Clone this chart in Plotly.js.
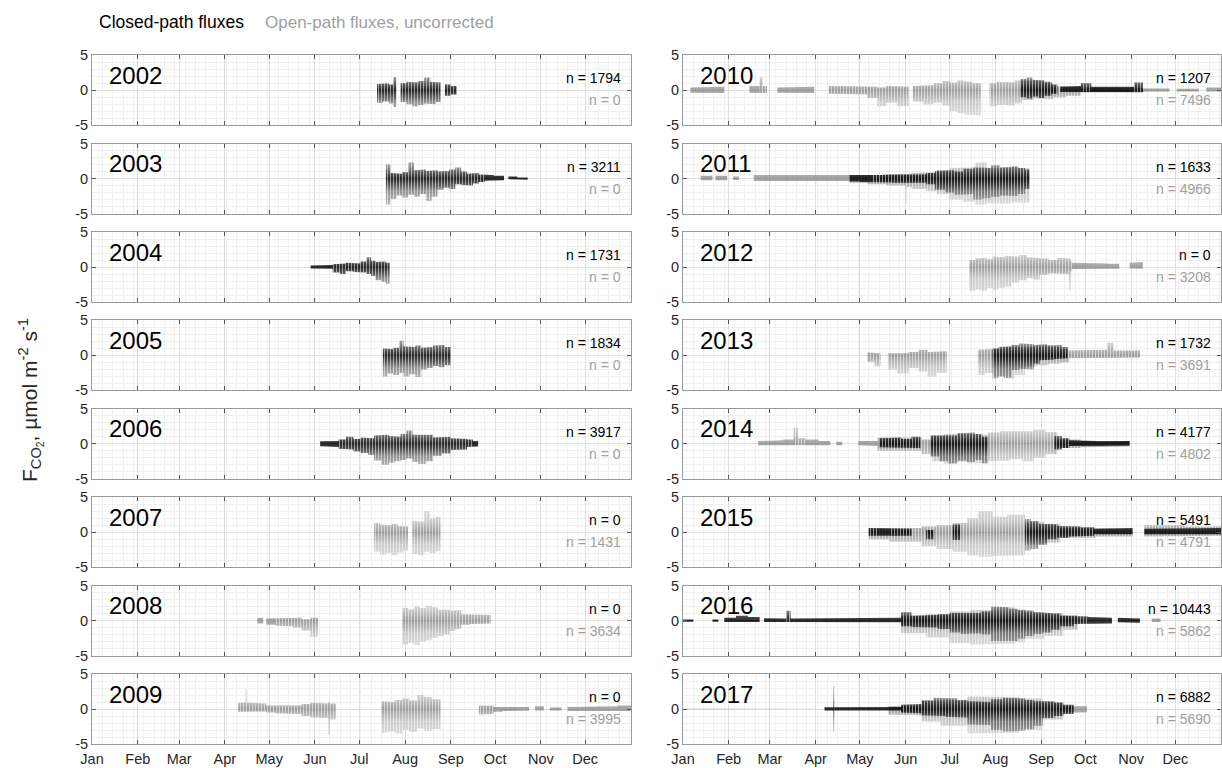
<!DOCTYPE html>
<html>
<head>
<meta charset="utf-8">
<script src="https://cdn.plot.ly/plotly-3.0.1.min.js"></script>
<style>html,body{margin:0;padding:0;background:#fff;}#chart{width:1222px;height:768px;}</style>
</head>
<body>
<div id="chart"></div>
<script>
// ---------------- DATA (day-of-year start, day-of-year end, low flux, high flux) ----------------
const years = [2002,2003,2004,2005,2006,2007,2008,2009,2010,2011,2012,2013,2014,2015,2016,2017];
const nClosed = [1794,3211,1731,1834,3917,0,0,0,1207,1633,0,1732,4177,5491,10443,6882];
const nOpen   = [0,0,0,0,0,1431,3634,3995,7496,4966,3208,3691,4802,4791,5862,5690];
const monthNames = ['Jan','Feb','Mar','Apr','May','Jun','Jul','Aug','Sep','Oct','Nov','Dec'];
const monthStart = [0,31,59,90,120,151,181,212,243,273,304,334];

const cp2002 = [[193,197,-1.8,0.9],[197,201,-1.6,1.0],[201,204,-1.9,0.8],[204,206,-2.4,1.9],[209,213,-1.7,1.0],[213,217,-2.0,1.2],[217,221,-2.3,1.1],[221,225,-2.1,1.3],[225,229,-1.9,1.8],[229,233,-2.0,1.2],[233,236,-1.7,1.1],[239,243,-0.8,0.8],[243,247,-0.6,0.6]];
const cp2003 = [[199,202,-3.7,2.0],[202,206,-2.9,0.8],[206,210,-2.4,0.7],[210,214,-2.7,0.9],[214,218,-2.3,2.3],[218,222,-2.6,1.2],[222,226,-2.2,1.3],[226,230,-3.2,1.1],[230,234,-2.6,1.2],[234,238,-1.6,1.0],[238,242,-1.3,1.1],[242,246,-1.5,1.3],[246,250,-0.8,1.6],[250,254,-0.9,1.0],[254,258,-1.0,0.7],[258,262,-0.7,0.8],[262,266,-0.5,0.6],[266,272,-0.3,0.5],[272,279,-0.25,0.4],[282,288,-0.1,0.3],[288,295,-0.15,0.15]];
const cp2004 = [[148,155,-0.2,0.2],[155,163,-0.25,0.3],[163,168,-0.8,0.4],[168,172,-1.0,0.5],[172,177,-0.6,0.6],[177,182,-0.7,0.5],[182,186,-0.8,0.8],[186,189,-1.0,1.4],[189,192,-1.3,0.9],[192,196,-1.9,0.7],[196,199,-2.1,0.8],[199,201.5,-2.4,0.6]];
const cp2005 = [[197,200,-3.0,1.0],[200,204,-2.6,0.9],[204,208,-2.8,1.1],[208,211,-2.5,2.1],[211,215,-3.0,1.3],[215,219,-2.7,1.2],[219,223,-3.1,1.4],[223,227,-2.0,1.1],[227,231,-1.8,1.2],[231,235,-1.5,1.4],[235,239,-1.7,1.5],[239,243,-1.4,1.2]];
const cp2006 = [[154.5,160,-0.35,0.35],[160,167,-0.45,0.4],[167,172,-0.7,0.6],[172,177,-0.8,1.0],[177,182,-1.1,0.7],[182,187,-1.3,0.9],[187,191,-1.6,0.8],[191,196,-2.4,1.2],[196,201,-3.0,1.3],[201,205,-2.7,1.1],[205,209,-2.5,1.0],[209,213,-2.3,1.4],[213,217,-2.1,1.9],[217,221,-2.6,1.3],[221,226,-2.9,1.2],[226,231,-2.5,1.3],[231,237,-1.7,0.9],[237,243,-1.4,1.0],[243,249,-0.9,0.8],[249,254,-0.8,0.7],[254,258,-0.45,0.6],[258,261.5,-0.4,0.4]];
const op2007 = [[191,195,-2.8,1.3],[195,199,-3.2,1.1],[199,203,-3.0,1.0],[203,207,-3.3,1.2],[207,211,-2.9,0.9],[211,214,-2.6,0.8],[217,221,-3.1,1.6],[221,225,-3.3,1.5],[225,229,-2.8,3.0],[229,233,-3.0,2.0],[233,236,-2.7,2.2]];
const op2008 = [[112,116,-0.4,0.4],[118,124,-0.6,0.3],[124,130,-0.7,0.4],[130,136,-0.8,0.3],[136,142,-1.0,0.4],[142,148,-1.4,0.2],[148,153,-2.3,0.4],[210,214,-3.4,1.8],[214,218,-3.2,1.6],[218,222,-3.5,2.0],[222,226,-3.0,1.8],[226,230,-2.8,2.1],[230,234,-2.5,1.9],[234,238,-2.2,1.5],[238,242,-2.0,1.6],[242,246,-1.5,1.4],[246,250,-1.2,1.5],[250,256,-0.6,0.9],[256,262,-0.5,0.8],[262,270,-0.4,0.8]];
const op2009 = [[99,104,-0.4,0.9],[104,105,-0.3,2.8],[105,108,-0.3,0.9],[108,113,-0.4,0.9],[113,118,-0.35,0.8],[118,124,-0.5,0.5],[124,130,-0.6,0.4],[130,136,-0.6,0.4],[136,142,-0.7,0.5],[142,148,-1.0,0.7],[148,153,-1.2,0.9],[153,160,-1.3,0.8],[160,161,-3.7,1.0],[161,165,-1.5,0.8],[196,200,-3.4,1.1],[200,205,-3.2,1.0],[205,210,-3.5,1.3],[210,215,-3.0,1.5],[215,220,-3.3,1.2],[220,225,-2.8,2.0],[225,230,-3.1,1.7],[230,236,-2.9,1.4],[262,267,-0.8,0.5],[267,272,-0.7,0.45],[272,278,-0.4,0.3],[278,288,-0.3,0.25],[288,296,-0.25,0.3],[300,306,-0.2,0.4],[310,318,-0.2,0.2],[322,332,-0.3,0.3],[332,345,-0.3,0.3],[345,356,-0.3,0.4],[356,365,-0.3,0.5]];
const op2010 = [[5,15,-0.35,0.4],[15,28,-0.4,0.5],[45,52,-0.35,0.6],[52,54,-0.4,1.8],[54,57,-0.4,0.6],[64,76,-0.35,0.4],[76,89,-0.4,0.5],[99,108,-0.5,0.6],[108,117,-0.6,0.5],[117,125,-0.6,0.6],[125,132,-1.1,0.5],[132,138,-2.3,0.4],[138,145,-1.8,0.6],[145,153,-2.3,0.5],[156,163,-1.6,0.6],[163,170,-2.0,0.7],[170,176,-1.8,1.0],[176,181,-2.2,1.3],[181,186,-3.0,1.1],[186,191,-3.3,1.4],[191,196,-3.5,1.2],[196,202,-3.6,1.0],[208,213,-2.3,1.0],[213,219,-2.1,1.2],[219,225,-2.2,1.1],[225,230,-1.9,1.4],[230,238,-1.4,1.3],[238,245,-1.2,1.4],[245,251,-1.3,1.0],[251,260,-1.0,0.6],[260,270,-0.8,0.5],[270,290,-0.3,0.4],[290,312,-0.3,0.3],[312,330,-0.2,0.25],[335,350,-0.2,0.2],[355,365,-0.2,0.4]];
const cp2010 = [[229,233,-1.0,1.6],[233,237,-1.2,1.8],[237,241,-0.9,1.5],[241,245,-1.1,1.4],[245,250,-0.8,1.2],[250,254,-0.5,0.8],[256,263,-0.25,0.5],[263,270,-0.2,0.6],[270,277,-0.2,1.0],[277,284,-0.25,0.5],[284,292,-0.2,0.4],[292,299,-0.25,0.4],[299,306,-0.3,0.5],[306,312,-0.3,1.1]];
const op2011 = [[12,20,-0.25,0.4],[22,30,-0.25,0.4],[34,38,-0.2,0.3],[48,60,-0.35,0.5],[60,75,-0.3,0.45],[75,90,-0.35,0.5],[90,103,-0.3,0.5],[103,113,-0.35,0.5],[113,125,-0.6,0.5],[125,138,-0.8,0.5],[138,151,-1.0,0.6],[151,152,-3.7,0.7],[152,155,-1.2,0.7],[155,165,-1.5,0.8],[165,172,-1.8,0.9],[172,181,-2.2,1.2],[181,190,-3.0,1.5],[190,198,-3.3,1.6],[198,206,-3.7,2.3],[206,214,-3.5,1.5],[214,222,-3.6,1.6],[222,228,-3.4,1.8],[228,235,-3.5,1.5]];
const cp2011 = [[113,120,-0.4,0.5],[120,128,-0.5,0.4],[128,135,-0.6,0.5],[135,143,-0.55,0.55],[143,150,-0.6,0.5],[150,158,-0.7,0.5],[158,165,-0.6,0.6],[165,171,-0.8,0.8],[171,178,-1.6,1.1],[178,184,-2.0,1.2],[184,190,-2.3,1.0],[190,197,-2.2,1.4],[197,203,-3.0,1.6],[203,209,-2.8,1.5],[209,215,-2.6,1.9],[215,221,-2.4,1.6],[221,227,-2.5,1.7],[227,232,-2.2,1.5],[232,235,-1.5,1.3]];
const op2012 = [[194,198,-3.4,1.0],[198,202,-3.2,1.2],[202,206,-3.4,1.3],[206,210,-3.0,1.1],[210,214,-3.2,1.5],[214,218,-3.0,1.4],[218,223,-2.8,1.6],[223,228,-2.2,1.5],[228,233,-1.9,1.7],[233,238,-1.6,1.4],[238,242,-1.8,1.3],[242,248,-1.1,1.2],[248,254,-0.9,1.0],[254,262,-1.0,1.3],[262,263,-3.4,1.2],[263,264,-0.6,0.8],[264,272,-0.3,0.6],[272,280,-0.25,0.5],[280,288,-0.3,0.5],[288,296,-0.25,0.45],[303,308,-0.2,0.6],[308,312,-0.25,0.7]];
const op2013 = [[125,130,-0.9,0.4],[130,134,-1.6,0.3],[139,145,-2.0,0.3],[145,153,-2.6,0.3],[153,160,-1.8,0.5],[160,166,-2.3,0.8],[166,172,-3.0,0.5],[172,179,-2.5,0.6],[200,205,-2.8,0.8],[205,211,-2.5,0.9],[211,218,-3.0,1.0],[218,225,-3.3,1.2],[225,232,-2.8,1.3],[232,240,-1.6,1.2],[240,248,-1.4,1.4],[248,256,-1.2,1.2],[256,262,-1.0,0.9],[262,275,-0.4,0.7],[275,288,-0.35,0.8],[288,292,-0.4,1.8],[292,310,-0.3,0.7]];
const cp2013 = [[210,214,-3.3,1.0],[214,218,-3.0,1.2],[218,223,-3.2,1.3],[223,228,-2.1,1.5],[228,233,-1.9,1.7],[233,238,-2.0,1.6],[238,242,-1.2,1.5],[242,247,-0.7,1.6],[247,252,-0.6,1.4],[252,257,-0.5,1.5],[257,261,-0.4,1.2]];
const op2014 = [[51,60,-0.2,0.4],[60,68,-0.25,0.5],[68,75,-0.2,0.6],[75,78,-0.25,2.3],[78,83,-0.25,0.8],[83,92,-0.2,0.6],[92,100,-0.2,0.4],[104,108,-0.2,0.3],[119,126,-0.2,0.4],[126,132,-0.3,0.4],[132,140,-1.0,0.9],[140,150,-1.1,0.9],[150,162,-1.0,0.9],[162,169,-1.5,0.6],[169,177,-2.5,1.2],[177,185,-2.8,1.4],[185,193,-2.6,1.5],[193,200,-2.8,1.4],[200,207,-2.7,1.3],[207,215,-2.5,1.6],[215,222,-2.4,1.8],[222,230,-2.2,1.7],[230,238,-2.5,1.8],[238,246,-2.0,2.0],[246,254,-1.5,1.7],[254,270,-0.6,0.6],[270,290,-0.5,0.4],[290,303,-0.4,0.4]];
const cp2014 = [[133,140,-0.5,0.8],[140,148,-0.6,0.9],[148,155,-0.55,0.7],[155,161,-0.6,1.0],[168,174,-1.8,1.2],[174,180,-2.5,1.3],[180,186,-2.8,1.2],[186,192,-2.4,1.5],[192,198,-2.6,1.6],[198,203,-2.3,1.4],[203,207,-2.8,1.0],[252,257,-0.8,1.1],[257,262,-0.6,0.8],[262,270,-0.3,0.5],[270,280,-0.2,0.4],[280,290,-0.2,0.35],[290,303,-0.25,0.4]];
const op2015 = [[126,140,-1.0,0.6],[140,162,-1.35,0.6],[162,172,-2.0,0.8],[172,183,-2.4,1.0],[183,193,-2.8,1.3],[193,200,-3.3,2.0],[200,210,-3.5,3.0],[210,220,-3.4,2.2],[220,232,-3.3,2.5],[232,245,-1.8,1.5],[245,256,-1.5,1.2],[256,280,-0.8,0.6],[280,305,-0.6,0.5],[313,340,-0.6,1.0],[340,365,-0.5,0.8]];
const cp2015 = [[126,133,-0.5,0.6],[133,140,-0.4,0.5],[140,148,-0.45,0.6],[148,155,-0.5,0.5],[165,170,-1.0,0.3],[183,188,-1.1,1.1],[232,236,-2.6,1.9],[236,241,-2.4,1.6],[241,247,-1.8,1.2],[247,254,-1.0,1.1],[254,262,-0.8,0.9],[262,270,-0.6,0.8],[270,279,-0.5,0.7],[279,292,-0.3,0.5],[292,305,-0.3,0.6],[313,330,-0.3,0.5],[330,345,-0.35,0.5],[345,365,-0.3,0.6]];
const op2016 = [[148,165,-1.8,0.7],[165,181,-2.4,0.9],[181,195,-3.2,1.3],[195,210,-3.4,1.5],[210,225,-3.3,1.9],[225,232,-3.1,1.6],[232,245,-2.6,1.2],[245,258,-2.2,1.0],[258,268,-1.3,0.8],[318,324,-0.2,0.3]];
const cp2016 = [[0,7,-0.15,0.15],[20,24,-0.15,0.15],[28,36,-0.2,0.4],[36,44,-0.2,0.7],[44,52,-0.2,0.5],[55,62,-0.2,0.35],[62,70,-0.2,0.3],[70,73,-0.25,1.4],[73,90,-0.2,0.3],[90,105,-0.25,0.35],[105,120,-0.2,0.3],[120,135,-0.25,0.35],[135,148,-0.25,0.4],[148,155,-0.8,1.2],[155,165,-0.9,0.7],[165,173,-1.0,0.8],[173,181,-1.2,0.9],[181,188,-1.7,1.1],[188,195,-1.9,1.2],[195,202,-1.8,1.1],[202,209,-2.0,1.3],[209,215,-2.9,2.0],[215,221,-2.8,1.9],[221,227,-2.9,1.7],[227,232,-2.6,1.5],[232,238,-2.2,1.4],[238,244,-1.9,1.2],[244,250,-1.7,1.1],[250,256,-1.3,1.0],[256,265,-0.8,0.7],[265,275,-0.5,0.6],[275,284,-0.45,0.5],[284,291,-0.4,0.4],[295,302,-0.25,0.4],[302,310,-0.3,0.3]];
const op2017 = [[0,96,-0.05,0.05],[139,150,-0.8,0.4],[150,162,-0.9,0.5],[162,175,-1.8,1.2],[175,193,-2.4,1.2],[193,210,-3.5,1.8],[210,228,-3.4,1.7],[228,244,-3.0,1.5],[244,258,-1.5,1.0],[258,274,-0.5,0.4]];
const cp2017 = [[96,102,-0.2,0.25],[102,102.6,-3.2,3.3],[102.6,115,-0.2,0.25],[115,130,-0.2,0.3],[130,148,-0.2,0.3],[148,155,-0.5,0.6],[155,162,-0.6,0.7],[162,170,-0.9,1.2],[170,178,-1.0,1.6],[178,186,-1.1,1.5],[186,193,-1.2,1.3],[193,201,-2.2,1.1],[201,209,-2.3,1.0],[209,217,-3.0,1.4],[217,225,-3.2,1.6],[225,232,-3.1,1.5],[232,238,-2.9,1.3],[238,244,-2.4,1.1],[244,252,-1.3,1.1],[252,258,-1.0,0.9],[258,265,-0.7,0.6]];

const closedByYear = {2002:cp2002,2003:cp2003,2004:cp2004,2005:cp2005,2006:cp2006,2010:cp2010,2011:cp2011,2013:cp2013,2014:cp2014,2015:cp2015,2016:cp2016,2017:cp2017};
const openByYear = {2007:op2007,2008:op2008,2009:op2009,2010:op2010,2011:op2011,2012:op2012,2013:op2013,2014:op2014,2015:op2015,2016:op2016,2017:op2017};

// ---------------- LAYOUT ----------------
const W = 1222, H = 768;
const FONT = 'Liberation Sans, Arial, Helvetica, sans-serif';
const colLeft = [92, 683], colRight = [631, 1221];
const rowTop0 = 55.2, rowPitch = 88.4, rowH = 70;
const px = v => v / W, py = v => 1 - v / H;

const traces = [];
const layout = {
  width: W, height: H, margin: {l:0, r:0, t:0, b:0},
  paper_bgcolor: '#fff', plot_bgcolor: '#fff',
  showlegend: false,
  font: {family: FONT, color: '#262626'},
  annotations: []
};

const weekly = [];
for (let d = 7; d < 365; d += 7) weekly.push(d);

// envelope polygons (one per run of contiguous segments), separated by nulls
function envelope(rows) {
  const xs = [], ys = [];
  let run = [];
  const flush = () => {
    if (!run.length) return;
    run.forEach(r => { xs.push(r[0], r[1]); ys.push(r[3], r[3]); });
    for (let k = run.length - 1; k >= 0; k--) { const r = run[k]; xs.push(r[1], r[0]); ys.push(r[2], r[2]); }
    xs.push(null); ys.push(null);
    run = [];
  };
  rows.forEach((r, k) => {
    if (k > 0 && Math.abs(r[0] - rows[k - 1][1]) > 0.01) flush();
    run.push(r);
  });
  flush();
  return {xs, ys};
}

const closedScale = [[0,'rgba(0,0,0,0.2)'],[0.3,'rgba(0,0,0,0.4)'],[0.5,'rgba(0,0,0,0.85)'],[0.7,'rgba(0,0,0,0.4)'],[1,'rgba(0,0,0,0.2)']];
const openScale = [[0,'rgba(150,150,150,0.28)'],[0.3,'rgba(150,150,150,0.45)'],[0.5,'rgba(130,130,130,0.75)'],[0.7,'rgba(150,150,150,0.45)'],[1,'rgba(150,150,150,0.28)']];

function envTraces(rows, ax, closed) {
  const e = envelope(rows);
  const common = {
    type: 'scatter', mode: 'lines',
    xaxis: 'x' + ax, yaxis: 'y' + ax,
    fill: 'toself', connectgaps: false, hoverinfo: 'skip',
    line: {width: 0, color: 'rgba(0,0,0,0)'}
  };
  const shade = Object.assign({}, common, {
    x: e.xs, y: e.ys,
    fillcolor: closed ? 'rgba(0,0,0,0.5)' : 'rgba(150,150,150,0.5)',
    fillgradient: {type: 'vertical', start: -4.5, stop: 4.5, colorscale: closed ? closedScale : openScale}
  });
  // white vertical streak texture over the wide parts of each cloud (daily scatter columns)
  const wide = envelope(rows.filter(r => r[3] - r[2] >= 1));
  const streak = Object.assign({}, common, {
    x: wide.xs, y: wide.ys,
    fillcolor: 'rgba(0,0,0,0)',
    fillpattern: {shape: '|', fgcolor: '#ffffff', fgopacity: 0.5, bgcolor: 'rgba(0,0,0,0)', size: 3, solidity: 0.34}
  });
  return [shade, streak];
}

years.forEach((yr, i) => {
  const col = i < 8 ? 0 : 1, row = i % 8;
  const ax = i === 0 ? '' : String(i + 1);
  const top = rowTop0 + row * rowPitch, bot = top + rowH;
  const xd = [px(colLeft[col]), px(colRight[col])];
  const yd = [py(bot), py(top)];
  const bottomRow = row === 7;

  layout['xaxis' + ax] = {
    domain: xd, anchor: 'y' + ax, range: [0, 365], fixedrange: true,
    tickmode: 'array', tickvals: monthStart, ticktext: monthNames,
    showticklabels: bottomRow, ticklabelstandoff: 2,
    tickfont: {size: 14.5, family: FONT, color: '#262626'},
    ticks: 'inside', ticklen: 4, tickcolor: '#555', tickwidth: 1,
    showline: true, linecolor: '#9a9a9a', linewidth: 1, mirror: 'ticks',
    showgrid: true, gridcolor: '#dedede', gridwidth: 1, zeroline: false,
    minor: {tickvals: weekly, showgrid: true, gridcolor: '#f0f0f0', ticks: ''}
  };
  layout['yaxis' + ax] = {
    domain: yd, anchor: 'x' + ax, range: [-5, 5], fixedrange: true,
    tickmode: 'array', tickvals: [-5, 0, 5], ticktext: ['-5', '0', '5'],
    tickfont: {size: 14.5, family: FONT, color: '#262626'},
    ticks: 'inside', ticklen: 4, tickcolor: '#555', tickwidth: 1,
    showline: true, linecolor: '#9a9a9a', linewidth: 1, mirror: 'ticks',
    showgrid: true, gridcolor: '#dedede', zeroline: false,
    minor: {dtick: 1, showgrid: true, gridcolor: '#f0f0f0', ticks: ''}
  };

  if (openByYear[yr]) traces.push(...envTraces(openByYear[yr], ax, false));
  if (closedByYear[yr]) traces.push(...envTraces(closedByYear[yr], ax, true));

  layout.annotations.push(
    {xref: 'paper', yref: 'paper', x: px(colLeft[col] + 15), y: py(top + 20), xanchor: 'left', yanchor: 'middle',
     text: String(yr), showarrow: false, font: {size: 24, family: FONT, color: '#000'}},
    {xref: 'paper', yref: 'paper', x: px(colRight[col] - 8), y: py(top + 23), xanchor: 'right', yanchor: 'middle',
     text: 'n = ' + nClosed[i], showarrow: false, font: {size: 14, family: FONT, color: '#000'}},
    {xref: 'paper', yref: 'paper', x: px(colRight[col] - 8), y: py(top + 45), xanchor: 'right', yanchor: 'middle',
     text: 'n = ' + nOpen[i], showarrow: false, font: {size: 14, family: FONT, color: '#a0a0a0'}}
  );
});

layout.annotations.push(
  {xref: 'paper', yref: 'paper', x: px(97), y: py(22), xanchor: 'left', yanchor: 'middle',
   text: 'Closed-path fluxes', showarrow: false, font: {size: 17.5, family: FONT, color: '#000'}},
  {xref: 'paper', yref: 'paper', x: px(263), y: py(22), xanchor: 'left', yanchor: 'middle',
   text: 'Open-path fluxes, uncorrected', showarrow: false, font: {size: 17, family: FONT, color: '#a0a0a0'}},
  {xref: 'paper', yref: 'paper', x: px(30), y: py(400), xanchor: 'center', yanchor: 'middle', textangle: -90,
   text: 'F<sub>CO<sub>2</sub></sub>, µmol m<sup>-2</sup> s<sup>-1</sup>', showarrow: false,
   font: {size: 21, family: FONT, color: '#262626'}}
);

Plotly.newPlot('chart', traces, layout, {staticPlot: true, displayModeBar: false});
</script>
</body>
</html>
